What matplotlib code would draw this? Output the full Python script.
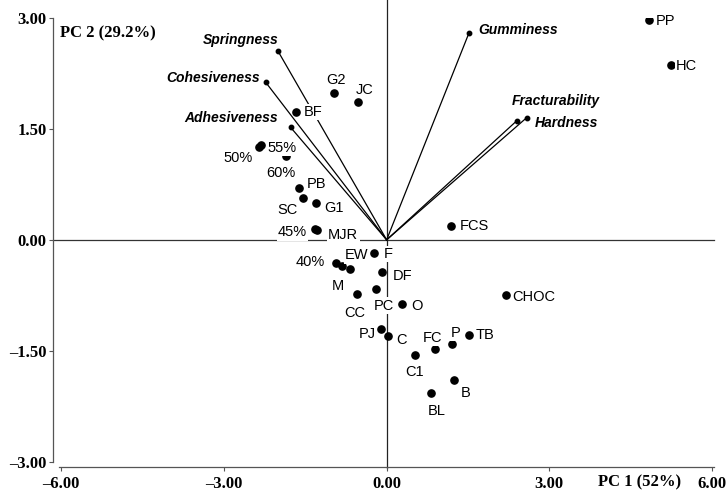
import numpy as np
import matplotlib

matplotlib.use("Agg")

import matplotlib.pyplot as plt

# sample scores (PC1, PC2)
samples=["PP","HC","FCS","CHOC","G2","JC","BF","50%","55%","60%",
         "PB","SC","G1","45%","MJR","F","EW","40%","M","DF",
         "PC","CC","O","PJ","C","FC","P","TB","C1","B","BL"]

pc1=[4.83,5.24,1.18,2.20,-0.97,-0.52,-1.67,-2.35,-2.32,-1.86,
     -1.62,-1.54,-1.30,-1.32,-1.28,-0.23,-0.68,-0.93,-0.83,-0.08,
     -0.20,-0.55,0.29,-0.10,0.02,0.89,1.21,1.51,0.53,1.25,0.82]

pc2=[2.97,2.36,0.19,-0.75,1.98,1.86,1.73,1.26,1.28,1.14,
     0.70,0.56,0.50,0.14,0.13,-0.18,-0.40,-0.32,-0.35,-0.44,
     -0.66,-0.73,-0.87,-1.21,-1.30,-1.47,-1.41,-1.29,-1.56,-1.89,-2.07]

# texture attribute loadings
attributes=["Springness","Cohesiveness","Adhesiveness","Gumminess","Fracturability","Hardness"]

att_pc1=[-2.01,-2.23,-1.77,1.52,2.40,2.58]

att_pc2=[2.56,2.13,1.52,2.80,1.61,1.65]

xticks=[-6,-3,0,3,6]
xtick_labels=["\u20136.00","\u20133.00","0.00","3.00","6.00"]
yticks=[-3,-1.5,0,1.5,3]
ytick_labels=["\u20133.00","\u20131.50","0.00","1.50","3.00"]

# label placement: (ha, dx px, dy px down to baseline)
sample_pos=[("left",7,5),("left",5,5),("left",9,4),("left",6,6),("center",2,-9),
            ("center",6,-8),("left",8,4),("right",-7,15),("left",7,7),("center",-5,21),
            ("left",8,0),("right",-6,16),("left",8,9),("right",-8,7),("left",11,9),
            ("left",10,5),("center",7,-10),("right",-11,3),("center",-4,24),("left",10,8),
            ("center",8,21),("center",-2,23),("left",9,6),("right",-5,9),("left",9,8),
            ("center",-2,-7),("center",3,-7),("left",7,4),("center",-1,21),("center",11,17),
            ("center",6,22)]

att_pos=[("right",1,-7),("right",-6,0),("right",-13,-5),("left",9,1),("left",-5,-16),("left",8,9)]

fig=plt.figure(figsize=(7.28,4.91),dpi=100)

ax=fig.add_axes([0.0842,0.0597,0.8938,0.9037])

ax.set_xlim(-6,6)
ax.set_ylim(-3,3)

# reference axes through origin
ax.plot([-6.15,6.04],[0,0],color="#333333",linewidth=0.9,clip_on=False,zorder=1)
ax.plot([0,0],[-3.09,3.24],color="#222222",linewidth=0.9,clip_on=False,zorder=1)

for name,x,y,(ha,dx,dy) in zip(attributes,att_pc1,att_pc2,att_pos):
    ax.plot([0,x],[0,y],color="black",linewidth=0.9,zorder=2)

    ax.plot(x,y,"o",color="black",markersize=3.2,zorder=3)

    ax.annotate(
        name,
        (x,y),
        xytext=(dx,-dy),
        textcoords="offset pixels",
        ha=ha,
        va="baseline",
        fontsize=10,
        fontweight="bold",
        fontstyle="italic",
        family="Liberation Sans",
        zorder=5
    )

ax.plot(pc1,pc2,"o",color="black",markersize=5.2,linestyle="none",zorder=3)

for name,x,y,(ha,dx,dy) in zip(samples,pc1,pc2,sample_pos):
    ax.annotate(
        name,
        (x,y),
        xytext=(dx,-dy),
        textcoords="offset pixels",
        ha=ha,
        va="baseline",
        fontsize=10.5,
        family="Liberation Sans",
        bbox=dict(boxstyle="square,pad=0.08",fc="white",ec="none"),
        zorder=4
    )

for side in ["top","right"]:
    ax.spines[side].set_visible(False)

ax.spines["left"].set_position(("outward",6))
ax.spines["bottom"].set_position(("outward",3.6))
ax.spines["left"].set_bounds(-3,3)
ax.spines["bottom"].set_bounds(-6.04,6.04)

for side in ["left","bottom"]:
    ax.spines[side].set_color("#555555")
    ax.spines[side].set_linewidth(0.9)

ax.set_xticks(xticks)
ax.set_xticklabels(xtick_labels)
ax.set_yticks(yticks)
ax.set_yticklabels(ytick_labels)

ax.tick_params(axis="x",direction="out",length=3,width=0.8,color="#555555",pad=3.5)
ax.tick_params(axis="y",direction="out",length=3,width=0.8,color="#555555",pad=1.5)

for lab in ax.get_xticklabels()+ax.get_yticklabels():
    lab.set_fontfamily("Liberation Serif")
    lab.set_fontweight("bold")
    lab.set_fontsize(12)

fig.text(60/728,1-37/491,"PC 2 (29.2%)",family="Liberation Serif",fontweight="bold",fontsize=12,va="baseline")

fig.text(598/728,1-486/491,"PC 1 (52%)",family="Liberation Serif",fontweight="bold",fontsize=12,va="baseline")

fig.savefig("out.png",dpi=100)
